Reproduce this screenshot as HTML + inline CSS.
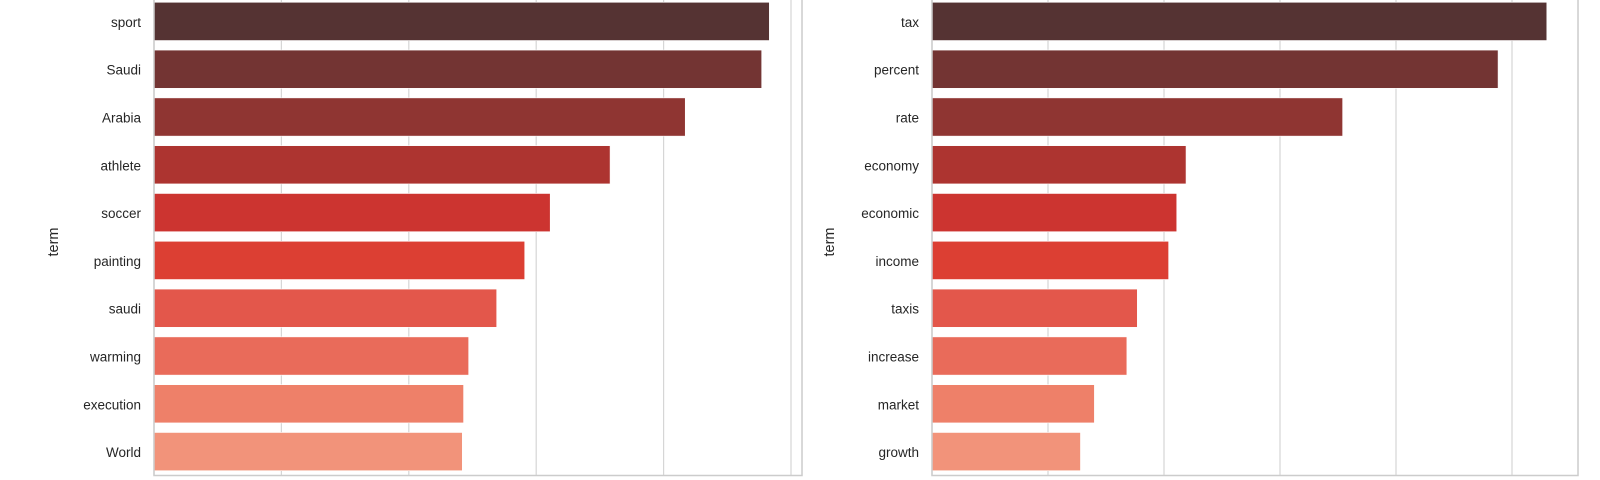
<!DOCTYPE html>
<html><head><meta charset="utf-8"><style>
html,body{margin:0;padding:0;background:#fff;}
svg{display:block;font-family:"Liberation Sans",Arial,sans-serif;}
</style></head><body>
<svg id="chart" width="1600" height="480"></svg>
<script>
const leftTerms=["sport","Saudi","Arabia","athlete","soccer","painting","saudi","warming","execution","World"];
const leftValues=[4.83,4.77,4.17,3.58,3.11,2.91,2.69,2.47,2.43,2.42];
const rightTerms=["tax","percent","rate","economy","economic","income","taxis","increase","market","growth"];
const rightValues=[5.30,4.88,3.54,2.19,2.11,2.04,1.77,1.68,1.40,1.28];
const gridTicks=[0,1,2,3,4,5];
const colors=["#553333","#733433","#8f3532","#ad3430","#cc3430","#dc3f33","#e3574b","#e96b5a","#ee8069","#f2937a"];
const NS="http://www.w3.org/2000/svg";
const svg=document.getElementById('chart');
function mk(t,a,p){const e=document.createElementNS(NS,t);for(const k in a)e.setAttribute(k,a[k]);(p||svg).appendChild(e);return e;}
function panel(name,terms,values,x0,x1,unit,labelX,titleX){
  const g=mk('g',{});
  
  
  const y0=-2.5,y1=475.5,band=(y1-y0)/terms.length;
  const xs=v=>x0+v*unit;
  gridTicks.forEach(t=>{const x=xs(t);if(x<=x1){const l=mk('line',{x1:x,x2:x,y1:y0,y2:y1,stroke:'#d6d6d6','stroke-width':1.2},g);
    
    }});
  terms.forEach((t,i)=>{
    const yc=y0+(i+0.5)*band,h=band*0.8;
    const r=mk('rect',{x:x0,y:yc-h/2,width:xs(values[i])-x0,height:h,fill:colors[i],stroke:'#fff','stroke-width':0.6},g);
    
    
    const tx=mk('text',{x:labelX,y:yc+5.5,'text-anchor':'end','font-size':13.5,fill:'#262626'},g);
    tx.textContent=t;
    
    
  });
  const f=mk('rect',{x:x0,y:y0,width:x1-x0,height:y1-y0,fill:'none',stroke:'#cccccc','stroke-width':1.5},g);
  
  
  const yt=mk('text',{x:titleX,y:242,'text-anchor':'middle','font-size':14.5,fill:'#262626',transform:`rotate(-90 ${titleX} 242)`},g);
  yt.textContent='term';
  
  
}
panel('left-panel',leftTerms,leftValues,154,802,127.4,141,58);
panel('right-panel',rightTerms,rightValues,932,1578,116,919,834);
</script>
</body></html>
